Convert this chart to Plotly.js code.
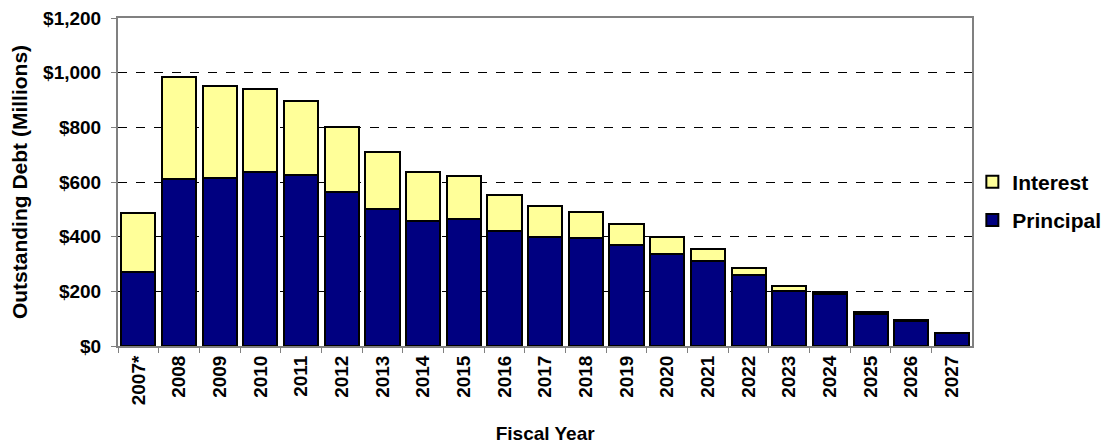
<!DOCTYPE html>
<html>
<head>
<meta charset="utf-8">
<script src="https://cdn.plot.ly/plotly-3.0.1.min.js"></script>
<style>html,body{margin:0;padding:0;background:#fff;}#chart{width:1117px;height:445px;}</style>
</head>
<body>
<div id="chart"></div>
<script>
const years = ["2007*","2008","2009","2010","2011","2012","2013","2014","2015","2016","2017","2018","2019","2020","2021","2022","2023","2024","2025","2026","2027"];
const principal = [272, 611, 613, 637, 627, 565, 502, 456, 463, 422, 397, 395, 370, 338, 312, 258, 200, 190, 118, 93, 47];
const interest = [213, 373, 340, 305, 269, 235, 208, 181, 159, 131, 114, 95, 76, 59, 44, 29, 20, 7, 7, 2, 1];
const yTickVals = [0, 200, 400, 600, 800, 1000, 1200];
const yTickText = ["$0", "$200", "$400", "$600", "$800", "$1,000", "$1,200"];

const fontFam = "Liberation Sans, Arial, sans-serif";
const b = s => "<b>" + s + "</b>";
const traces = [
  {type: "bar", name: b("Principal"), legendgroup: "p", legendrank: 2, x: years, y: principal,
   marker: {color: "#000080", line: {color: "#000000", width: 2}}},
  {type: "bar", name: b("Interest"), legendgroup: "i", legendrank: 1, x: years, y: interest,
   marker: {color: "#FFFF99", line: {color: "#000000", width: 2}}}
];
const layout = {
  width: 1117, height: 445,
  margin: {l: 118, r: 144, t: 18, b: 99},
  barmode: "stack", bargap: 0.16,
  paper_bgcolor: "#fff", plot_bgcolor: "#fff",
  font: {family: fontFam, size: 17, color: "#000"},
  showlegend: true,
  legend: {xref: "container", yref: "container", x: 0.8705, y: 0.548, xanchor: "left", yanchor: "middle",
           traceorder: "grouped",
           font: {family: fontFam, size: 21, color: "#000"},
           tracegroupgap: 8, bgcolor: "rgba(0,0,0,0)"},
  xaxis: {type: "category", tickangle: -90, ticks: "outside", tickson: "boundaries", ticklen: 5,
          tickvals: years, ticktext: years.map(b),
          tickcolor: "#808080", showline: true, linecolor: "#808080", linewidth: 2, mirror: true,
          tickfont: {family: fontFam, size: 19},
          title: {text: b("Fiscal Year"), standoff: 22, font: {family: fontFam, size: 19}}},
  yaxis: {range: [0, 1200], tickvals: yTickVals, ticktext: yTickText.map(b), ticks: "outside", ticklen: 5,
          ticklabelstandoff: 6,
          tickcolor: "#808080", showline: true, linecolor: "#808080", linewidth: 2, mirror: true,
          showgrid: true, gridcolor: "#000", griddash: "dash", gridwidth: 1, zeroline: false,
          tickfont: {family: fontFam, size: 19},
          title: {text: b("Outstanding Debt (Millions)"), standoff: 10, font: {family: fontFam, size: 21}}}
};
Plotly.newPlot("chart", traces, layout, {displayModeBar: false, staticPlot: true});
</script>
</body>
</html>
